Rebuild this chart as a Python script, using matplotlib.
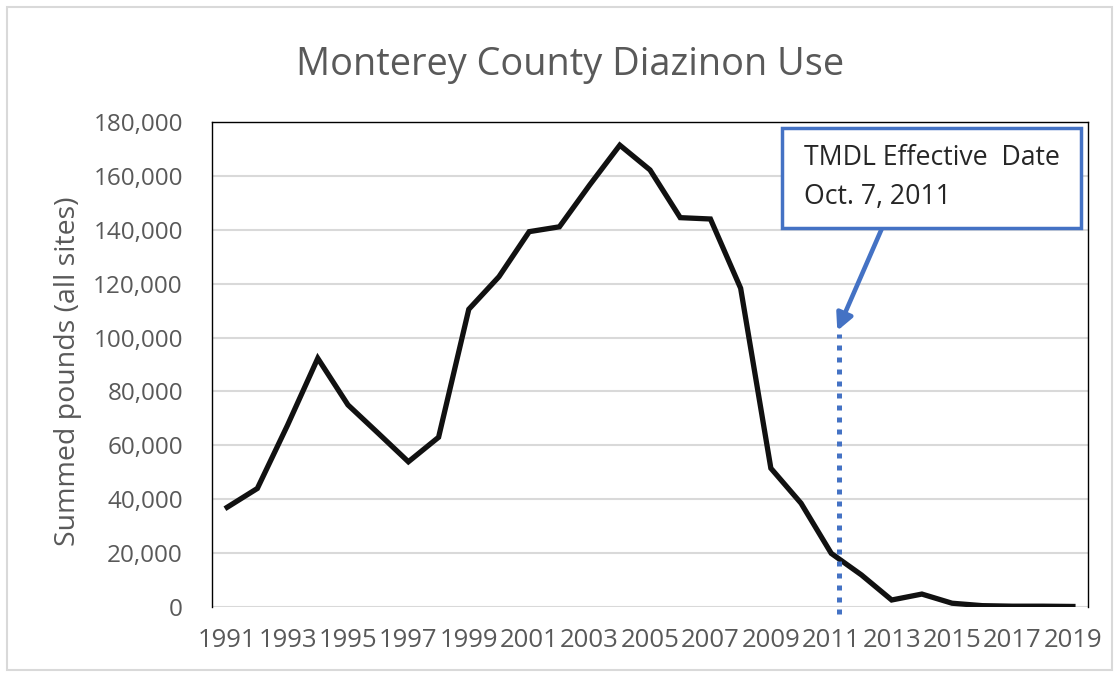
import matplotlib.pyplot as plt
from matplotlib.patches import Rectangle
from matplotlib.ticker import FuncFormatter

# Summed pounds of diazinon, all sites, by year
years = list(range(1991, 2020))
pounds = [37000, 44000, 67500, 92300, 75000, 64500, 53900, 63000, 110500, 122600,
          139300, 141100, 156600, 171400, 162200, 144500, 144000, 118300, 51500, 38500,
          19900, 11900, 2600, 4800, 1400, 500, 300, 300, 200]
year_labels = [str(y) for y in range(1991, 2020, 2)]
tmdl_date = 2011.25
tmdl_lines = ["TMDL Effective  Date", "Oct. 7, 2011"]

plt.rcParams['font.family'] = ['Open Sans', 'DejaVu Sans']
gray = '#595959'
blue = '#4472C4'

fig = plt.figure(figsize=(11.19, 6.77), dpi=100)
ax = fig.add_axes([0.1895, 0.1034, 0.7828, 0.7164])

ax.plot(years, pounds, color='#111111', linewidth=3.8, solid_joinstyle='miter', zorder=3)

ax.set_xlim(1990.5, 2019.5)
ax.set_ylim(0, 180000)
ax.set_yticks(range(0, 180001, 20000))
ax.yaxis.set_major_formatter(FuncFormatter(lambda v, p: f"{int(v):,}"))
ax.set_xticks(range(1991, 2020, 2))
ax.set_xticklabels(year_labels)
ax.tick_params(axis='both', length=0, labelcolor=gray)
ax.tick_params(axis='x', pad=15, labelsize=18.5)
ax.tick_params(axis='y', pad=21, labelsize=17.5)
ax.grid(axis='y', color='#d9d9d9', linewidth=1.5, zorder=0)
ax.set_axisbelow(True)
for s in ['left', 'top', 'right']:
    ax.spines[s].set_color('black')
    ax.spines[s].set_linewidth(1.0)
ax.spines['bottom'].set_visible(False)

fig.text(68 / 1119, 1 - 371 / 677, "Summed pounds (all sites)", color=gray, fontsize=20.5,
         rotation=90, ha='center', va='center')
fig.text(0.509, 0.904, "Monterey County Diazinon Use", color=gray, fontsize=27.3,
         ha='center', va='center')

# dotted TMDL marker line
ax.plot([tmdl_date, tmdl_date], [-2500, 101500], color=blue, linewidth=3.6,
        linestyle=(0, (1, 1.4)), dash_capstyle='butt', clip_on=False, zorder=4)

# callout box with arrow
ax.add_patch(Rectangle((2009.37, 140600), 2019.27 - 2009.37, 177700 - 140600,
                       facecolor='white', edgecolor=blue, linewidth=2.5, zorder=6, clip_on=False))
ax.annotate("", xy=(2011.2, 102500), xytext=(2012.68, 140600),
            arrowprops=dict(arrowstyle='-|>,head_length=1.0,head_width=0.5',
                            color=blue, linewidth=3.3, shrinkA=0, shrinkB=0), zorder=5)
ax.text(2010.1, 166500, tmdl_lines[0], fontsize=19.2, color='#262626', va='center', ha='left', zorder=7)
ax.text(2010.1, 152300, tmdl_lines[1], fontsize=19.2, color='#262626', va='center', ha='left', zorder=7)

fig.patches.append(Rectangle((7 / 1119, 7 / 677), 1 - 14 / 1119, 1 - 14 / 677,
                             transform=fig.transFigure, fill=False,
                             edgecolor='#d9d9d9', linewidth=1.5))

fig.savefig('out.png', dpi=100)
